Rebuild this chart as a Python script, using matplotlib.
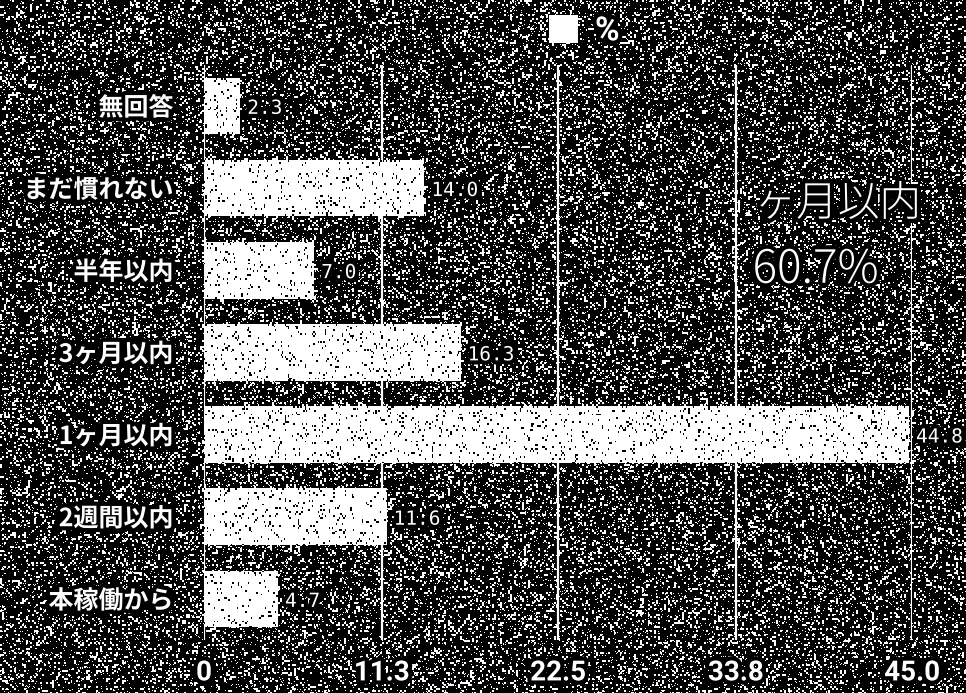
import numpy as np
import matplotlib
matplotlib.use("Agg")
import matplotlib.pyplot as plt
import matplotlib.patheffects as pe

plt.rcParams['font.family'] = ['Noto Sans CJK JP', 'DejaVu Sans']

categories = ["無回答", "まだ慣れない", "半年以内", "3ヶ月以内", "1ヶ月以内", "2週間以内", "本稼働から"]
values = [2.3, 14.0, 7.0, 16.3, 44.8, 11.6, 4.7]
value_labels = ["2.3", "14.0", "7.0", "16.3", "44.8", "11.6", "4.7"]
ticks = [0, 11.3, 22.5, 33.8, 45.0]
tick_labels = ["0", "11.3", "22.5", "33.8", "45.0"]
legend_label = "%"
note_line1 = "ヶ月以内"
note_line2 = "60.7%"

W, H = 966, 693
fig = plt.figure(figsize=(W / 100, H / 100), dpi=100, facecolor="black")

# speckled background texture (decoration only)
rng = np.random.default_rng(7)
small = (rng.random((H // 2 + 1, W // 2 + 1)) < 0.15).astype(float)
tex = np.kron(small, np.ones((2, 2)))[:H, :W]
tex = np.maximum(tex, (rng.random((H, W)) < 0.05).astype(float))
fig.figimage(tex, xo=0, yo=0, cmap="gray", vmin=0, vmax=1, zorder=-10)

stroke = [pe.withStroke(linewidth=6, foreground="black")]

ax = fig.add_axes([0.2112, 0.0765, 0.733, 0.830])
ax.set_zorder(5)
ax.set_facecolor("none")
ypos = np.arange(len(categories))[::-1]
bars = ax.barh(ypos, values, height=0.69, color="white", zorder=3, label=legend_label)
ax.set_xlim(0, 45)
ax.set_ylim(-0.5, len(categories) - 0.5)

# dark speckles on the bars (decoration only)
spk = (rng.random((300, 500)) < 0.07)
rgba = np.zeros((300, 500, 4))
rgba[..., 3] = spk.astype(float)
for b in bars:
    im = ax.imshow(rgba, extent=(0, 45, -0.5, len(categories) - 0.5), aspect="auto",
                   interpolation="nearest", zorder=3.5)
    im.set_clip_path(b)

for x in ticks:
    ax.axvline(x, color="white", lw=1.6, zorder=2)

for y, v, lab in zip(ypos, values, value_labels):
    ax.text(v + 0.45, y - 0.03, lab, color="white", fontsize=14, va="center", ha="left",
            family="DejaVu Sans Mono", clip_on=False, zorder=4, path_effects=stroke)

ax.set_yticks(ypos)
ax.set_yticklabels(categories, color="white", fontsize=18, fontweight="bold")
ax.set_xticks(ticks)
ax.set_xticklabels(tick_labels, color="white", fontsize=20, fontweight="bold",
                   family=["Roboto", "DejaVu Sans"])
for t in ax.get_yticklabels() + ax.get_xticklabels():
    t.set_path_effects(stroke)
ax.tick_params(axis="both", length=0)
ax.tick_params(axis="y", pad=22)
ax.tick_params(axis="x", pad=14)
for s in ax.spines.values():
    s.set_visible(False)

fig.text(0.781, 1 - 204 / H, note_line1, color="white", zorder=6,
         fontsize=30, fontweight="light", ha="left", va="center", path_effects=stroke)
fig.text(0.779, 1 - 270 / H, note_line2, color="white", zorder=6,
         fontsize=33, fontweight="light", ha="left", va="center", path_effects=stroke)

leg = ax.legend(loc="upper left", bbox_to_anchor=(549 / W, 1 - 15 / H), bbox_transform=fig.transFigure,
                frameon=False, prop={"family": ["Roboto", "DejaVu Sans"], "size": 24, "weight": "bold"},
                handlelength=0.88, handleheight=0.9, handletextpad=0.5,
                borderpad=0, borderaxespad=0)
for t in leg.get_texts():
    t.set_color("white")
    t.set_path_effects(stroke)

fig.savefig("out.png", dpi=100, facecolor="black")
